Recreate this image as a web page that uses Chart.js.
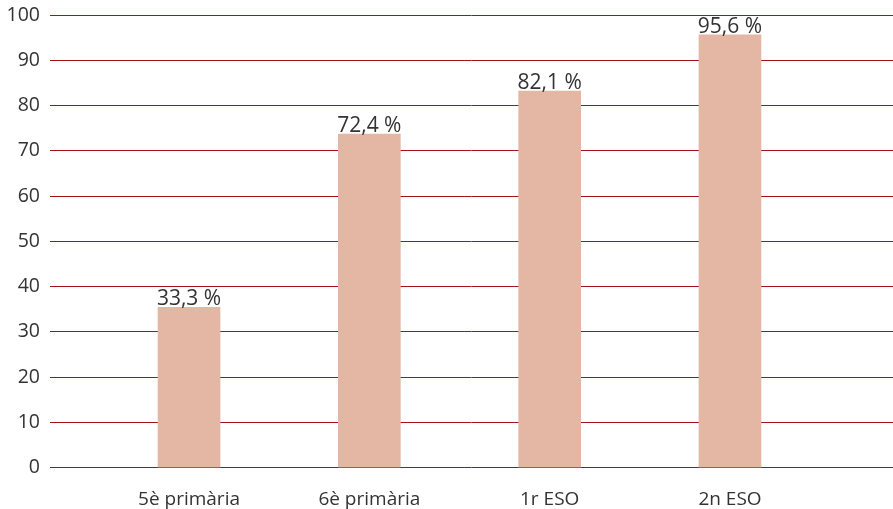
<!DOCTYPE html>
<html>
<head>
<meta charset="utf-8">
<script src="https://cdn.jsdelivr.net/npm/chart.js@4/dist/chart.umd.min.js"></script>
<style>
  html, body { margin: 0; padding: 0; background: #ffffff; }
  #wrap { width: 893px; height: 509px; position: relative; }
</style>
</head>
<body>
<div id="wrap"><canvas id="c"></canvas></div>
<script>
// ---- data ----
const categories = ["5è primària", "6è primària", "1r ESO", "2n ESO"];
const barHeights = [35.4, 73.7, 83.2, 95.6];      // bar heights as drawn
const reportedPct = [33.3, 72.4, 82.1, 95.6];      // printed labels
const yTicks = [0, 10, 20, 30, 40, 50, 60, 70, 80, 90, 100];

const FONT = "'Open Sans', 'Noto Sans', sans-serif";
const TEXT = "#333333";
const GRID = "#a3121c";
const BAR = "#e4b7a5";

const valueLabelPlugin = {
  id: 'valueLabels',
  afterDatasetsDraw(chart) {
    const ctx = chart.ctx;
    const meta = chart.getDatasetMeta(0);
    ctx.save();
    ctx.font = "21px " + FONT;
    ctx.fillStyle = TEXT;
    ctx.textAlign = 'center';
    ctx.textBaseline = 'alphabetic';
    meta.data.forEach((el, i) => {
      const txt = reportedPct[i].toFixed(1).replace('.', ',') + ' %';
      ctx.fillText(txt, el.x, el.y - 2);
    });
    ctx.restore();
  }
};

new Chart(document.getElementById('c'), {
  type: 'bar',
  data: {
    datasets: [{
      data: categories.map((c, i) => ({ x: i, y: barHeights[i] })),
      backgroundColor: BAR,
      borderWidth: 0,
      barThickness: 62
    }]
  },
  options: {
    responsive: true,
    maintainAspectRatio: false,
    animation: false,
    layout: { padding: 0 },
    plugins: { legend: { display: false }, tooltip: { enabled: false } },
    scales: {
      x: {
        type: 'linear',
        min: -0.771,
        max: 3.904,
        offset: false,
        grid: { display: false, offset: false },
        border: { display: false },
        afterBuildTicks(scale) {
          scale.ticks = categories.map((c, i) => ({ value: i }));
        },
        afterFit(scale) {
          scale.height = 41.3;
          scale.paddingLeft = 0;
          scale.paddingRight = 0;
        },
        ticks: {
          autoSkip: false,
          maxRotation: 0,
          padding: 12,
          color: TEXT,
          font: { family: FONT, size: 19 },
          callback: (v) => categories[v] ?? ''
        }
      },
      y: {
        min: 0,
        max: 100,
        afterBuildTicks(scale) {
          scale.ticks = yTicks.map(v => ({ value: v }));
        },
        afterFit(scale) {
          scale.width = 50;
          scale.paddingTop = 15;
          scale.paddingBottom = 0;
        },
        grid: { color: GRID, lineWidth: 1, drawTicks: false },
        border: { display: false },
        ticks: {
          padding: 10,
          color: TEXT,
          font: { family: FONT, size: 19.5 }
        }
      }
    }
  },
  plugins: [valueLabelPlugin]
});
</script>
</body>
</html>
